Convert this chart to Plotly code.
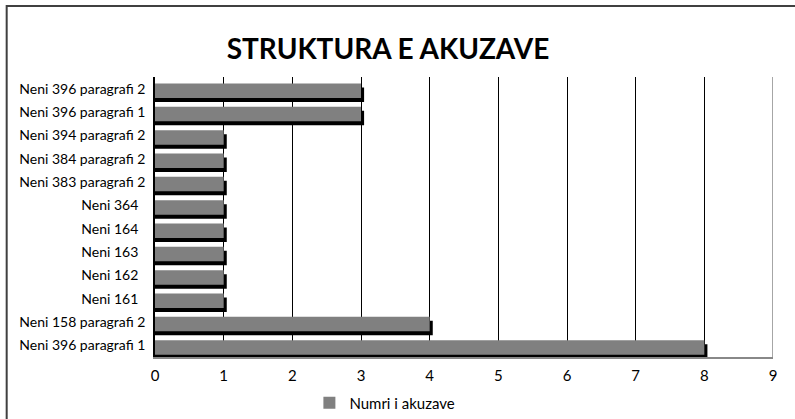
import plotly.graph_objects as go

categories = [
    "Neni 396 paragrafi 1",
    "Neni 158 paragrafi 2",
    "Neni 161&nbsp;&nbsp;",
    "Neni 162&nbsp;&nbsp;",
    "Neni 163&nbsp;&nbsp;",
    "Neni 164&nbsp;&nbsp;",
    "Neni 364&nbsp;&nbsp;",
    "Neni 383 paragrafi 2",
    "Neni 384 paragrafi 2",
    "Neni 394 paragrafi 2",
    "Neni 396 paragrafi 1",
    "Neni 396 paragrafi 2",
]
values = [8, 4, 1, 1, 1, 1, 1, 1, 1, 1, 3, 3]
series_name = "Numri i akuzave"
x_ticks = [0, 1, 2, 3, 4, 5, 6, 7, 8, 9]

positions = list(range(len(categories)))
FONT = "Lato"

fig = go.Figure()
# shadow
fig.add_trace(go.Bar(
    y=positions, x=[v + 0.045 for v in values], orientation="h",
    marker=dict(color="#000000", line=dict(width=0)),
    width=0.62, offset=-0.57, showlegend=False, hoverinfo="skip",
))
fig.add_trace(go.Bar(
    y=positions, x=values, orientation="h", name=series_name,
    marker=dict(color="#808080", line=dict(width=0)),
    width=0.62, offset=-0.40,
))

fig.update_layout(
    width=795, height=419,
    barmode="overlay",
    paper_bgcolor="white", plot_bgcolor="white",
    margin=dict(l=155, r=22, t=77, b=62, autoexpand=False),
    font=dict(family=FONT, size=14, color="#000000"),
    title=dict(text="<b>STRUKTURA E AKUZAVE</b>", x=0.488, xref="container",
               xanchor="center", y=1 - 49 / 419, yref="container", yanchor="middle",
               font=dict(family=FONT, size=28, color="#000000")),
    xaxis=dict(range=[0, 9], tickvals=x_ticks, showgrid=True, gridcolor="#000000",
               gridwidth=1, zeroline=False, showline=True, linecolor="#888888",
               linewidth=1.5, ticks="", tickfont=dict(size=15), ticklabelstandoff=4),
    yaxis=dict(range=[-0.5, 11.5], tickvals=positions, ticktext=categories,
               showgrid=False, zeroline=False, showline=True, linecolor="#000000",
               linewidth=1.5, ticks="", tickfont=dict(size=14), ticklabelstandoff=5),
    legend=dict(orientation="h", x=0.372, xanchor="center", y=-0.105, yanchor="top",
                font=dict(size=15), itemsizing="constant"),
    shapes=[
        dict(type="line", xref="x", yref="paper", x0=9, x1=9, y0=0, y1=1,
             line=dict(color="#888888", width=1.5)),
        dict(type="rect", xref="paper", yref="paper", x0=-0.240, x1=1.2,
             y0=-0.6, y1=1.2536, line=dict(color="#404040", width=2),
             fillcolor="rgba(0,0,0,0)", layer="below"),
    ],
)

fig.write_html("out.html", config={"displayModeBar": False},
               post_script="document.body.style.margin='0';document.body.style.overflow='hidden';")
